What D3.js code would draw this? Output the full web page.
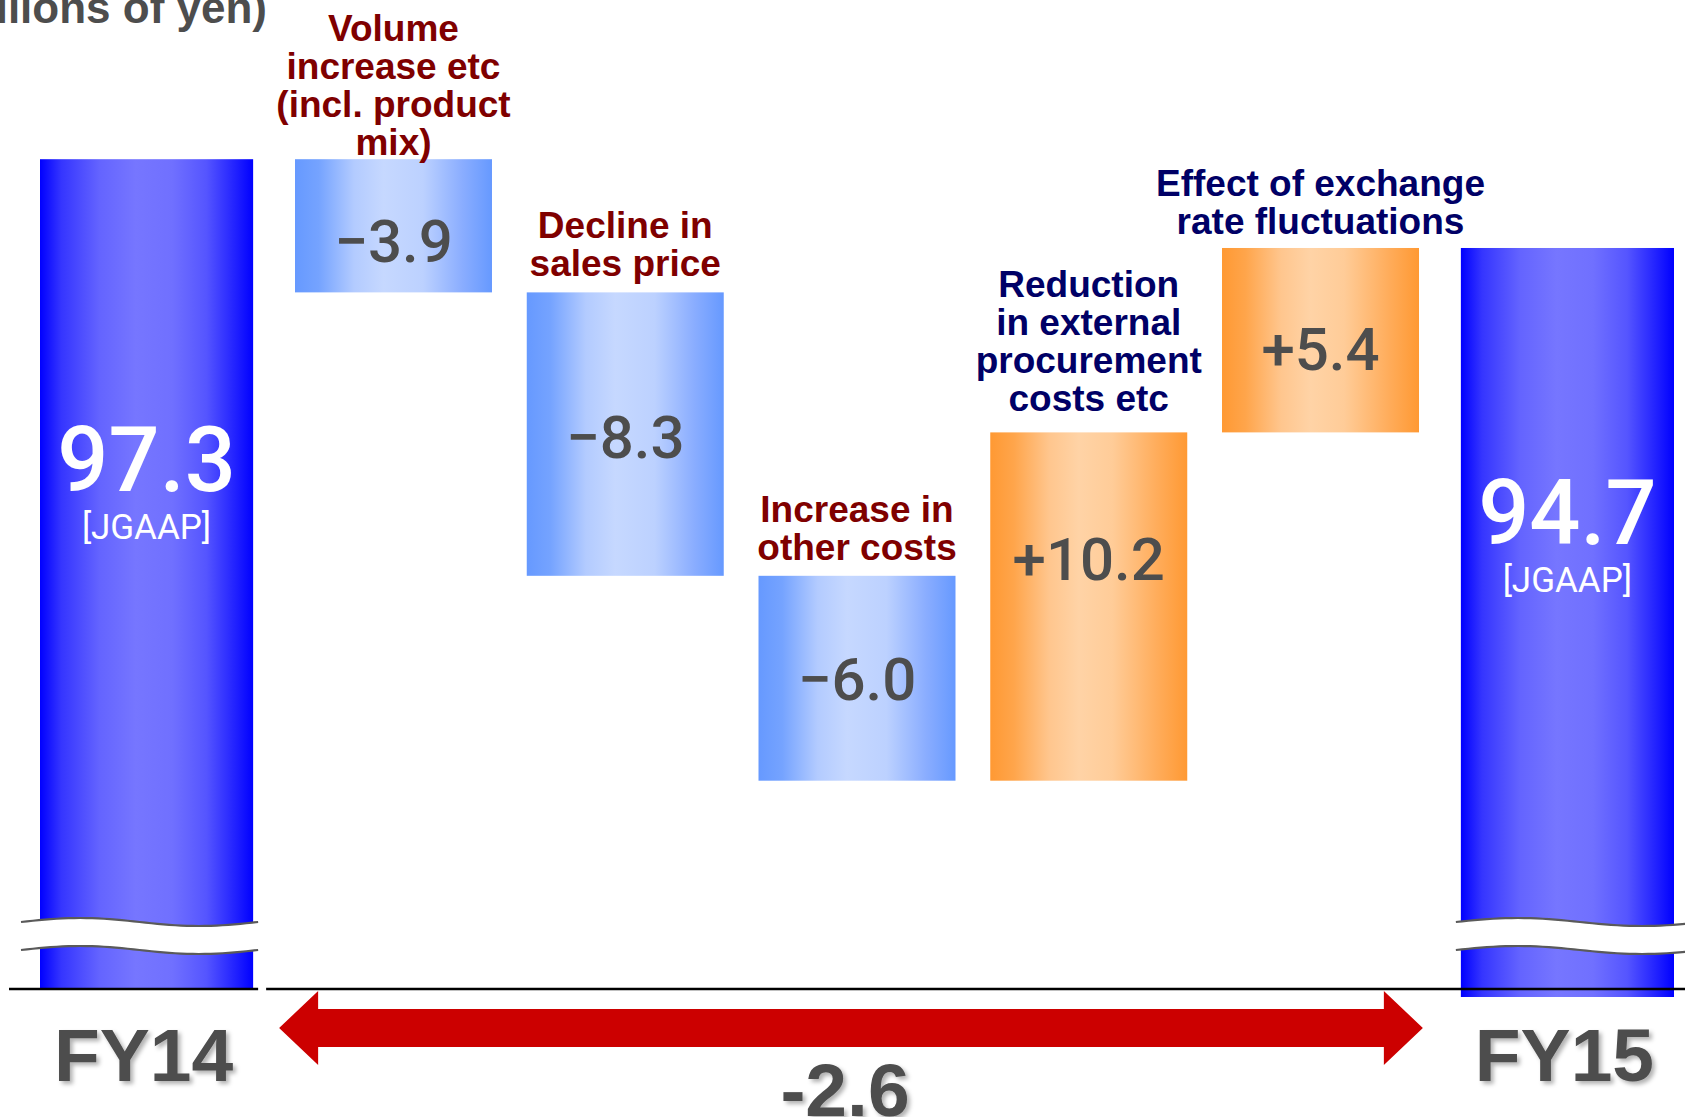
<!DOCTYPE html>
<html>
<head>
<meta charset="utf-8">
<script src="https://cdn.jsdelivr.net/npm/d3@7"></script>
<style>
  html, body { margin: 0; padding: 0; background: #fff; overflow: hidden; }
</style>
</head>
<body>
<svg id="chart"></svg>
<script>
// ---- data ----
const unitLabel = "(Billions of yen)";
const totalLabels = ["FY14", "FY15"];
const totalValues = [97.3, 94.7];
const totalBasis = "[JGAAP]";
const stepLabels = [
  ["Volume", "increase etc", "(incl. product", "mix)"],
  ["Decline in", "sales price"],
  ["Increase in", "other costs"],
  ["Reduction", "in external", "procurement", "costs etc"],
  ["Effect of exchange", "rate fluctuations"]
];
const stepValues = [-3.9, -8.3, -6.0, 10.2, 5.4];

// ---- layout ----
const W = 1685, H = 1117;
const baseY = 989;
const valueNudge = [15, 2, 0, -48, 8];      // vertical tweak of the numbers inside step bars
const captionNudge = [12, 0, 0, -5, 2];     // vertical tweak of the captions above step bars
const breakExtent = [[-19, 5], [-5, 30]];   // horizontal reach of the axis-break band
const totalDrop = [0, 8];                   // how far a total bar runs past the baseline
const lineGap = 38;

const svg = d3.select("#chart").attr("width", W).attr("height", H);
const defs = svg.append("defs");

function hGradient(id, stops) {
  const g = defs.append("linearGradient").attr("id", id)
    .attr("x1", 0).attr("x2", 1).attr("y1", 0).attr("y2", 0);
  stops.forEach(([o, c]) => g.append("stop").attr("offset", o).attr("stop-color", c));
}
hGradient("gTotal", [[0, "#0000ff"], [0.1, "#3535ff"], [0.28, "#6464ff"], [0.45, "#7676ff"],
                     [0.62, "#7070ff"], [0.78, "#5555ff"], [0.92, "#2020ff"], [1, "#0000ff"]]);
hGradient("gNeg", [[0, "#6699ff"], [0.12, "#75a3ff"], [0.3, "#b3cbff"], [0.45, "#c6d8ff"],
                   [0.65, "#bcd1ff"], [0.85, "#8aadff"], [1, "#6699ff"]]);
hGradient("gPos", [[0, "#ff9933"], [0.12, "#ffa54b"], [0.3, "#ffc68e"], [0.45, "#ffd3a6"],
                   [0.62, "#ffcc98"], [0.85, "#ffac5a"], [1, "#ff9933"]]);

const shadow = defs.append("filter").attr("id", "softShadow")
  .attr("x", "-10%").attr("y", "-10%").attr("width", "130%").attr("height", "140%");
shadow.append("feDropShadow").attr("dx", 3).attr("dy", 3).attr("stdDeviation", 2)
  .attr("flood-color", "#000").attr("flood-opacity", 0.3);

// ---- scales ----
const stepIds = stepLabels.map((d, i) => "step" + i);
const xTotal = d3.scaleBand().domain([totalLabels[0], ...stepIds, totalLabels[1]])
  .range([40, 1674]).paddingInner(0.1);
const xStep = d3.scaleBand().domain(stepIds).range([295, 1419]).paddingInner(0.15);
const y = d3.scaleLinear().domain([73, 100]).range([baseY, 67]);
const bwT = xTotal.bandwidth();
const bwS = xStep.bandwidth();

// running totals for the bridge
let run = totalValues[0];
const steps = stepValues.map((v, i) => {
  const s = { id: stepIds[i], from: run, to: run + v, v, lines: stepLabels[i], i };
  run += v;
  return s;
});
const totals = totalValues.map((v, i) => ({ id: totalLabels[i], v, i }));

const fmtStep = v => (v < 0 ? "\u2212" : "+") + Math.abs(v).toFixed(1);

// ---- unit label (runs off the top-left corner) ----
svg.append("text")
  .attr("x", 267).attr("y", 23)
  .attr("text-anchor", "end")
  .attr("font-family", "'Liberation Sans', Arial, sans-serif")
  .attr("font-weight", "bold").attr("font-size", 44)
  .attr("fill", "#4d4d4d")
  .text(unitLabel);

// ---- total bars ----
const tg = svg.append("g").selectAll("g").data(totals).join("g");
tg.append("rect")
  .attr("x", d => xTotal(d.id)).attr("width", bwT)
  .attr("y", d => y(d.v)).attr("height", d => baseY - y(d.v) + totalDrop[d.i])
  .attr("fill", "url(#gTotal)");

// axis break band
const amp = 4;
function wave(x0, x1, yc) {
  const n = 40;
  return d3.range(n + 1).map(k => {
    const t = k / n;
    return [x0 + (x1 - x0) * t, yc - amp * Math.sin(2 * Math.PI * t)];
  });
}
tg.each(function (d) {
  const g = d3.select(this);
  const [l, r] = breakExtent[d.i];
  const x0 = xTotal(d.id) + l, x1 = xTotal(d.id) + bwT + r;
  const top = wave(x0, x1, 922), bot = wave(x0, x1, 950);
  const line = d3.line();
  g.append("path")
    .attr("d", line(top.concat(bot.slice().reverse())) + "Z")
    .attr("fill", "#fff");
  [top, bot].forEach(w => g.append("path")
    .attr("d", line(w)).attr("fill", "none")
    .attr("stroke", "#5a5a5a").attr("stroke-width", 2.2));
});

const valueY = d => y(d.v) + 0.4 * (baseY - y(d.v));
tg.append("text")
  .attr("x", d => xTotal(d.id) + bwT / 2)
  .attr("y", valueY)
  .attr("text-anchor", "middle")
  .attr("font-family", "Roboto, 'Liberation Sans', sans-serif")
  .attr("font-weight", 500).attr("font-size", 90)
  .attr("fill", "#fff")
  .text(d => d.v.toFixed(1));
tg.append("text")
  .attr("x", d => xTotal(d.id) + bwT / 2)
  .attr("y", d => valueY(d) + 48)
  .attr("text-anchor", "middle")
  .attr("font-family", "Roboto, 'Liberation Sans', sans-serif")
  .attr("font-size", 35)
  .attr("fill", "#fff")
  .text(totalBasis);

tg.append("text")
  .attr("x", d => xTotal(d.id) + bwT / 2 - 3)
  .attr("y", 1081)
  .attr("text-anchor", "middle")
  .attr("font-family", "'Liberation Sans', Arial, sans-serif")
  .attr("font-weight", "bold").attr("font-size", 75)
  .attr("fill", "#4d4d4d")
  .attr("filter", "url(#softShadow)")
  .text(d => d.id);

// ---- step bars ----
const sg = svg.append("g").selectAll("g").data(steps).join("g");
sg.append("rect")
  .attr("x", d => xStep(d.id)).attr("width", bwS)
  .attr("y", d => y(Math.max(d.from, d.to)))
  .attr("height", d => Math.abs(y(d.from) - y(d.to)))
  .attr("fill", d => d.v < 0 ? "url(#gNeg)" : "url(#gPos)");

sg.append("text")
  .attr("x", d => xStep(d.id) + bwS / 2)
  .attr("y", d => (y(d.from) + y(d.to)) / 2 + valueNudge[d.i])
  .attr("dy", "0.36em")
  .attr("text-anchor", "middle")
  .attr("font-family", "Roboto, 'Liberation Sans', sans-serif")
  .attr("font-weight", 500).attr("font-size", 60)
  .attr("fill", "#4d4d4d")
  .text(d => fmtStep(d.v));

sg.append("text")
  .attr("text-anchor", "middle")
  .attr("font-family", "'Liberation Sans', Arial, sans-serif")
  .attr("font-weight", "bold").attr("font-size", 37)
  .attr("fill", d => d.v < 0 ? "#7f0000" : "#000066")
  .each(function (d) {
    const t = d3.select(this);
    const last = y(Math.max(d.from, d.to)) - 16 + captionNudge[d.i];
    const first = last - (d.lines.length - 1) * lineGap;
    d.lines.forEach((ln, k) => t.append("tspan")
      .attr("x", xStep(d.id) + bwS / 2)
      .attr("y", first + k * lineGap)
      .text(ln));
  });

// ---- baseline ----
const xL = xTotal(totalLabels[0]), xR = xTotal(totalLabels[1]);
svg.append("line").attr("x1", xL - 31).attr("x2", xL + bwT + 5)
  .attr("y1", baseY).attr("y2", baseY).attr("stroke", "#000").attr("stroke-width", 2.5);
svg.append("line").attr("x1", xL + bwT + 13).attr("x2", W)
  .attr("y1", baseY).attr("y2", baseY).attr("stroke", "#000").attr("stroke-width", 2.5);

// ---- change arrow ----
const aL = xL + bwT + 26, aR = xR - 38, aY = 1028;
const headLen = 39, headH = 37, shaftH = 19;
svg.append("path")
  .attr("d", d3.line()([
    [aL, aY], [aL + headLen, aY - headH], [aL + headLen, aY - shaftH],
    [aR - headLen, aY - shaftH], [aR - headLen, aY - headH], [aR, aY],
    [aR - headLen, aY + headH], [aR - headLen, aY + shaftH],
    [aL + headLen, aY + shaftH], [aL + headLen, aY + headH]
  ]) + "Z")
  .attr("fill", "#cc0000");

const change = totalValues[1] - totalValues[0];
svg.append("text")
  .attr("x", (aL + aR) / 2 - 6).attr("y", 1116)
  .attr("text-anchor", "middle")
  .attr("font-family", "'Liberation Sans', Arial, sans-serif")
  .attr("font-weight", "bold").attr("font-size", 75)
  .attr("fill", "#4d4d4d")
  .attr("filter", "url(#softShadow)")
  .text((change < 0 ? "-" : "+") + Math.abs(change).toFixed(1));
</script>
</body>
</html>
